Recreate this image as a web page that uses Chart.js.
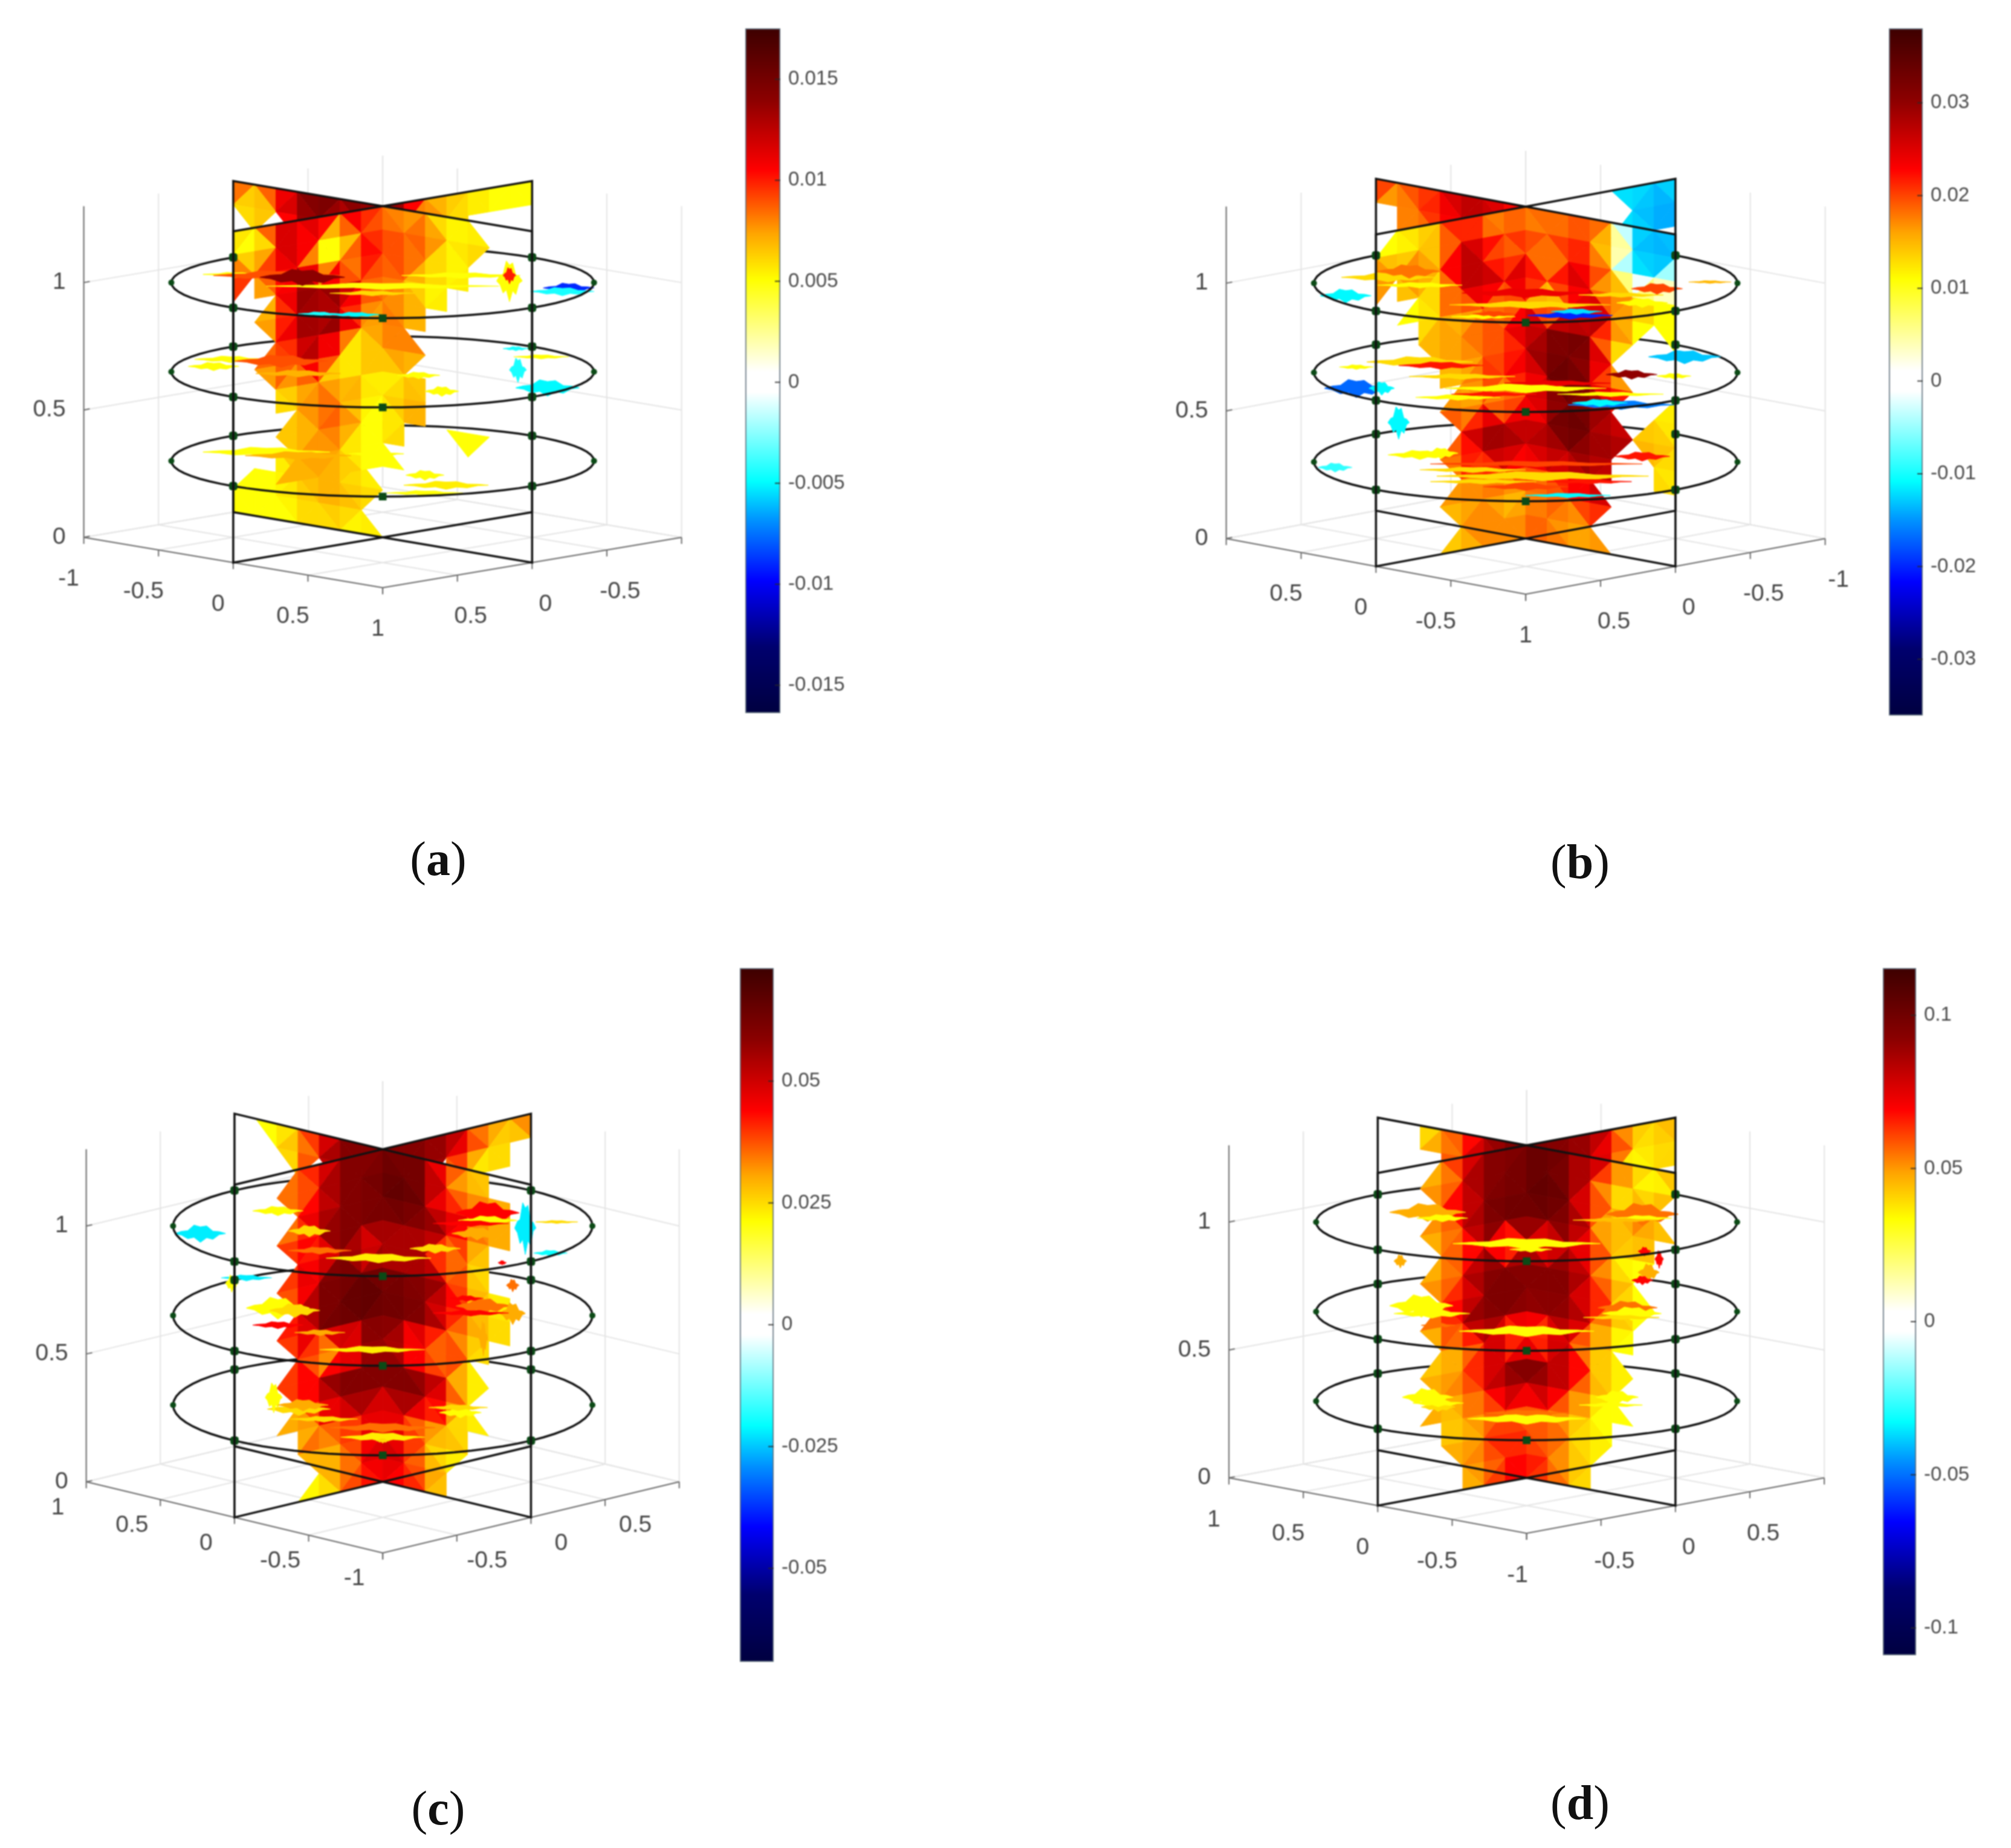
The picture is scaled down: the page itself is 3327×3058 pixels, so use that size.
<!DOCTYPE html>
<html>
<head>
<meta charset="utf-8">
<title>Slices at four load steps</title>
<script src="https://cdn.jsdelivr.net/npm/chart.js@4"></script>
<style>
    html, body { margin: 0; background: #fff; }
    #page { position: relative; width: 3327px; height: 3058px; overflow: hidden; background: #fff; }
    #page canvas { position: absolute; filter: blur(1px); }
    .caption { position: absolute; font: 80px "Liberation Serif", serif; color: #111; transform: translate(-50%, -50%); }
</style>
</head>
<body>
<div id="page"></div>
<script>
const _ = null;

// slice values in units of 0.001, rows run from z = 1.3 down to z = 0, columns left to right on screen
const sliceFrontA = [
    [7, 5, 13, 14, 15, 11, 11, 8, 8, 7, 6, 5, _, _, _],
    [5, 5, 8, 13, 5, 5, 10, 9, 8, 10, 5, 6, _, _, _],
    [10, 9, 11, 14, 5, 5, 11, 10, 9, 8, 5, 6, _, _, _],
    [_, _, 6, 12, 14, 13, 9, 8, 8, 5, 5, _, _, _, _],
    [_, _, 8, 15, 11, 14, 9, 8.5, 7, 6, _, _, _, _, _],
    [_, _, 7, 11, 14, 13, 6, 8, 8, _, _, _, _, _, _],
    [_, _, 10, 11, 13, 5.5, 5.5, 8, 8, _, _, _, _, _, _],
    [_, _, 5, 7, 8, 5.5, 6, 5.5, 6, _, _, _, _, _, _],
    [_, _, _, 7, 8, 9, 6, 5, 7, 7, _, _, _, _, _],
    [_, _, _, 6, 8, 9, 5, 5, 7, _, _, 5, _, _, _],
    [_, _, _, 7, 8, 7, 5, 5, _, _, _, 5, _, _, _],
    [_, _, _, 7, 7, 7, 5, 5, _, _, _, _, _, _, _]
];
const sliceBackA = [
    [11, 7, 11, 14, 15, 15, 15, 14, 13, 8, 6, 6, 5, 5, 5],
    [7, 5, 8, 13, 14, 12, 12, _, _, 8, 7, 5, _, 5, _],
    [], [], [], [], [], [], [], [], [],
    [_, _, _, 7, 7, 7, 5, _, _, _, _, _, _, _, _],
    [_, _, 5, 6, 7, 7, 6, _, _, _, _, _, _, _, _],
    [5, 5, 5, 6, 7, 7, 6, _, _, _, _, _, _, _, _],
    [5, 5, 5, 5, 6, 5, 5, _, _, _, _, _, _, _, _]
];
const sliceFrontB = [
    [_, 11, 13, 15, 22, 15, 20, 18, 22, 18, 22, 15, -12, -13, -13],
    [_, 11, 13, 15, 27, 22, 18, 20, 15, 22, 18, 13, -13, -14, -14],
    [15, 18, 20, 15, 27, 27, 15, 24, 16, 24, 22, 13, -12, -11, 11],
    [_, _, 11, 13, 27, 27, 24, 27, 15, 27, 24, 13, 18, 11, 11],
    [_, _, 11, 15, 13, 18, 15, 20, 11, 18, 31, 20, 11, 11, 11],
    [_, _, _, 15, 18, 18, 22, 27, 29, 33, 31, 13, _, _, _],
    [_, _, _, 15, 15, 18, 18, 24, 33, 33, 31, 13, _, _, _],
    [_, _, _, _, 15, 20, 24, 22, 31, 36, 28, 20, _, _, _],
    [_, _, _, _, 18, 15, 13, 18, 28, 33, 33, 24, _, 13, 11],
    [_, _, _, _, 20, 29, 29, 24, 29, 36, 31, 29, _, 15, 13],
    [_, _, _, _, 18, 29, 29, 27, 27, 31, 29, 27, _, 15, 11],
    [_, _, _, _, 18, 15, 20, 22, 22, 24, 27, _, _, _, 11],
    [_, _, _, _, 15, 18, 15, 15, 18, 18, 24, _, _, _, _],
    [_, _, _, _, 15, 18, 15, 18, 20, 15, 18, _, _, _, _],
    [_, _, _, _, 13, 18, 18, 18, 18, 15, 15, _, _, _, _]
];
const sliceBackB = [
    [22, 18, 20, 22, 27, 27, 24, 20, _, _, _, _, -12, -13, -11],
    [_, 15, 20, 22, 27, 27, 24, _, _, _, _, _, -12, -14, -14],
    [_, _, 15, 20, 22, 22, _, _, _, _, _, _, -12, -14, -14]
];
const sliceFrontC = [
    [_, _, _, 35, 44, 60, 60, 60, 60, 60, 44, 30, _, _, _],
    [_, _, _, 35, 44, 60, 60, 64, 68, 60, 35, 30, 25, _, _],
    [_, _, _, 35, 52, 60, 60, 64, 66, 60, 44, 44, 30, 35, _],
    [_, _, _, 35, 52, 60, 60, 62, 60, 60, 52, 35, 25, _, _],
    [_, _, _, 44, 30, 60, 44, 44, 60, 44, 25, 30, _, _, _],
    [_, _, _, 35, 60, 60, 64, 60, 60, 60, 52, 30, 21, _, _],
    [_, _, _, 40, 60, 64, 68, 66, 62, 60, 44, 35, 25, 25, _],
    [_, _, _, 44, 60, 64, 64, 62, 62, 60, 44, 30, 25, _, _],
    [_, _, _, 35, 25, 21, 60, 52, 52, 21, 44, 25, _, _, _],
    [_, _, _, 44, 52, 60, 60, 60, 60, 52, 44, 21, _, _, _],
    [_, _, _, 35, 44, 60, 60, 60, 60, 60, 40, 25, _, _, _],
    [_, _, _, 25, 35, 44, 44, 44, 44, 35, 30, 21, _, _, _],
    [_, _, _, _, 35, 30, 44, 52, 44, 30, 25, _, _, _, _],
    [_, _, _, _, 23, 35, 40, 52, 44, 35, 21, _, _, _, _],
    [_, _, _, _, 21, 30, 44, 44, 44, 35, _, _, _, _, _]
];
const sliceBackC = [
    [_, _, 21, 30, 44, 60, 60, 60, 60, 60, 60, 44, 35, 30, 35],
    [_, _, 21, 30, 44, 60, 60, 60, 60, 60, 52, 44, 25, 25, _],
    [_, _, _, _, _, _, _, _, _, _, _, 21, 25, _, _]
];
const sliceFrontD = [
    [_, _, _, 47, 69, 94, 94, 100, 100, 94, 94, 69, 47, 39, 47],
    [_, _, _, 47, 69, 94, 94, 100, 106, 94, 69, 47, 33, 33, _],
    [_, _, _, 55, 82, 94, 100, 100, 106, 94, 69, 39, 47, 55, _],
    [_, _, _, 47, 69, 94, 100, 100, 100, 94, 69, 39, 55, 33, _],
    [_, _, _, 47, 55, 82, 33, 69, 60, 82, 69, 39, 33, _, _],
    [_, _, _, 47, 69, 94, 94, 94, 94, 94, 69, 47, 33, _, _],
    [_, _, _, 55, 69, 94, 100, 94, 94, 94, 69, 55, 33, _, _],
    [_, _, _, 55, 82, 94, 94, 90, 90, 90, 69, 39, 33, _, _],
    [_, _, _, 39, 47, 69, 69, 33, 69, 69, 39, 33, _, _, _],
    [_, _, _, 47, 55, 69, 94, 94, 94, 82, 55, 39, _, _, _],
    [_, _, _, 47, 55, 69, 82, 94, 82, 69, 47, 33, _, _, _],
    [_, _, _, 47, 39, 55, 60, 60, 60, 47, 33, 33, _, _, _],
    [_, _, _, _, 47, 55, 69, 55, 60, 47, 39, _, _, _, _],
    [_, _, _, _, 47, 55, 69, 69, 60, 47, 33, _, _, _, _],
    [_, _, _, _, _, 47, 69, 69, 60, 47, _, _, _, _, _]
];
const sliceBackD = [
    [_, _, 33, 47, 55, 82, 94, 100, 94, 94, 94, 69, 47, 39, 47],
    [_, _, _, 47, 69, 82, 94, 94, 94, 94, 82, 69, 39, 39, 47],
    [_, _, _, _, _, _, _, _, _, _, _, _, 33, 33, _]
];

// disc patches: [across, depth, half length, half thickness, value] for discs at z = 1, 0.65, 0.3
const discA = [
    [[-0.7, -0.23, 0.15, 0.05, 5], [-0.5, -0.2, 0.3, 0.12, 9], [0, 0.1, 0.55, 0.08, 5], [-0.05, 0.3, 0.2, 0.06, 6], [0.37, -0.2, 0.28, 0.07, 5], [-0.38, -0.15, 0.2, 0.2, 14], [0.6, -0.05, 0.06, 0.5, 5], [0.6, -0.2, 0.03, 0.2, 10], [0.88, 0.15, 0.12, 0.12, -9], [0.85, 0.25, 0.15, 0.1, -4.5], [-0.3, 0.88, 0.1, 0.05, -4.5], [-0.13, 0.9, 0.12, 0.06, -5]],
    [[-0.72, -0.35, 0.17, 0.08, 5], [-0.48, -0.3, 0.22, 0.15, 9], [-0.4, 0.05, 0.2, 0.08, 7], [-0.8, -0.15, 0.12, 0.1, 5], [0.17, 0.1, 0.1, 0.08, 5], [0.28, 0.55, 0.08, 0.12, 5], [0.63, -0.65, 0.06, 0.05, -4.5], [0.64, -0.05, 0.04, 0.3, -4.5], [0.78, 0.45, 0.15, 0.2, -5], [0.75, -0.42, 0.13, 0.05, 5]],
    [[-0.55, -0.25, 0.3, 0.12, 5], [-0.4, -0.15, 0.25, 0.1, 7], [-0.03, -0.2, 0.13, 0.07, 5], [0.2, 0.4, 0.09, 0.12, 5], [0.3, 0.68, 0.2, 0.1, 5.5], [0.2, 0.9, 0.18, 0.06, 5]]
];
const discB = [
    [[-0.65, -0.15, 0.22, 0.1, 13], [-0.55, -0.3, 0.15, 0.15, 18], [0, 0.25, 0.3, 0.1, 24], [0.02, 0.55, 0.38, 0.08, 13], [-0.2, 0.85, 0.15, 0.05, 11], [-0.15, 0.78, 0.1, 0.06, 20], [0.21, 0.82, 0.2, 0.08, -20], [0.24, 0.72, 0.12, 0.06, -12], [-0.85, 0.32, 0.12, 0.15, -11], [0.62, 0.14, 0.12, 0.12, 20], [0.87, -0.03, 0.1, 0.03, 15], [0.55, 0.5, 0.12, 0.1, 11], [-0.5, 0.05, 0.2, 0.06, 11], [0.45, 0.3, 0.2, 0.05, 13]],
    [[-0.5, -0.27, 0.25, 0.12, 13], [-0.4, -0.18, 0.2, 0.08, 22], [-0.8, -0.14, 0.08, 0.05, 11], [-0.8, 0.4, 0.15, 0.2, -17], [-0.68, 0.4, 0.06, 0.15, -11], [0.75, -0.4, 0.17, 0.15, -13], [0, 0.4, 0.38, 0.1, 11], [0.15, 0.27, 0.25, 0.06, 24], [0.5, 0.05, 0.12, 0.1, 30], [0.7, 0.09, 0.08, 0.06, 11], [0.45, 0.82, 0.25, 0.1, -16], [0.35, 0.77, 0.13, 0.08, -11], [-0.32, 0.63, 0.2, 0.06, 11], [-0.3, 0.1, 0.25, 0.06, 13], [0.4, 0.55, 0.25, 0.05, 11], [-0.15, 0.55, 0.2, 0.05, 22]],
    [[-0.5, -0.18, 0.15, 0.1, 11], [-0.4, -0.22, 0.08, 0.12, 11], [0.05, 0.05, 0.5, 0.06, 20], [0.08, 0.36, 0.5, 0.1, 13], [0.2, 0.85, 0.2, 0.05, -11], [0, 0.63, 0.2, 0.08, 20], [-0.9, 0.14, 0.08, 0.1, -9], [0.55, -0.14, 0.13, 0.1, 22], [-0.6, -1, 0.05, 0.36, -11], [-0.25, 0.2, 0.25, 0.06, 13], [0.3, 0.5, 0.2, 0.05, 22], [-0.2, 0.5, 0.25, 0.05, 13]]
];
const discC = [
    [[-0.5, -0.3, 0.12, 0.08, 21], [-0.02, 0.64, 0.25, 0.08, 23], [0.25, 0.45, 0.12, 0.08, 25], [-0.3, 0.49, 0.15, 0.06, 35], [0.5, -0.26, 0.15, 0.2, 44], [0.5, -0.11, 0.14, 0.08, 21], [0.45, 0.15, 0.12, 0.11, 30], [-0.87, 0.15, 0.12, 0.15, -22], [0.68, 0.04, 0.05, 0.45, -22], [0.8, 0.54, 0.08, 0.05, -20], [0.83, -0.08, 0.1, 0.025, 25], [-0.35, 0.1, 0.1, 0.1, 25], [0.42, -0.05, 0.18, 0.05, 44]],
    [[-0.5, -0.15, 0.15, 0.19, 21], [-0.5, 0.19, 0.12, 0.06, 44], [-0.3, 0.34, 0.12, 0.05, 30], [0.48, -0.19, 0.13, 0.14, 35], [0.4, -0.34, 0.08, 0.05, 44], [-0.05, 0.68, 0.25, 0.06, 23], [-0.65, -0.75, 0.12, 0.05, -22], [-0.72, -0.64, 0.03, 0.15, 21], [0.62, -0.04, 0.06, 0.19, 30], [0.57, -1.05, 0.02, 0.04, 44], [0.62, -0.6, 0.03, 0.11, 35], [0.48, 0.45, 0.02, 0.3, 30], [-0.42, -0.1, 0.12, 0.12, 25], [0.42, -0.05, 0.18, 0.05, 44]],
    [[-0.4, 0.08, 0.15, 0.11, 25], [-0.52, -0.15, 0.04, 0.26, 21], [0, 0.64, 0.2, 0.08, 23], [0, 0.45, 0.25, 0.08, 35], [0.37, 0.15, 0.1, 0.09, 21], [0, 0.71, 0.03, 0.04, 25], [-0.38, 0, 0.12, 0.1, 30], [0.36, 0.05, 0.14, 0.05, 25], [-0.28, 0.28, 0.16, 0.05, 25]]
];
const discD = [
    [[-0.47, -0.25, 0.18, 0.2, 47], [0.55, -0.2, 0.17, 0.25, 55], [0.55, -0.1, 0.14, 0.06, 33], [0, 0.55, 0.35, 0.12, 33], [0.02, 0.7, 0.1, 0.06, 33], [-0.6, 1, 0.03, 0.15, 47], [0.56, 0.75, 0.03, 0.1, 69], [0.63, 0.95, 0.02, 0.2, 69], [-0.4, -0.1, 0.12, 0.08, 33], [0.42, -0.05, 0.2, 0.05, 44]],
    [[-0.5, -0.15, 0.15, 0.25, 33], [-0.42, 0.35, 0.08, 0.05, 55], [0.48, -0.1, 0.14, 0.15, 55], [0.5, 0.05, 0.14, 0.15, 33], [0, 0.5, 0.32, 0.12, 33], [0.58, -1, 0.05, 0.2, 47], [0.55, -0.8, 0.05, 0.1, 69], [-0.45, 0.05, 0.18, 0.1, 33], [0.45, 0.15, 0.18, 0.05, 39]],
    [[-0.47, -0.1, 0.12, 0.2, 33], [-0.42, 0.15, 0.08, 0.1, 39], [0.43, -0.1, 0.1, 0.15, 33], [0, 0.45, 0.28, 0.12, 33], [0, 0.3, 0.2, 0.06, 55], [-0.42, 0.05, 0.12, 0.08, 33], [0.4, 0.1, 0.15, 0.05, 33]]
];

// tick labels
const edgeTicks = [-1, -0.5, 0, 0.5, 1];
const heightTicks = [0, 0.5, 1];
const leftLabelsA = ['-1', '-0.5', '0', '0.5', '1'];
const rightLabelsA = ['', '0.5', '0', '-0.5', ''];
const leftLabelsB = ['', '0.5', '0', '-0.5', '1'];
const rightLabelsB = ['', '0.5', '0', '-0.5', '-1'];
const leftLabelsC = ['1', '0.5', '0', '-0.5', '-1'];
const rightLabelsC = ['', '-0.5', '0', '0.5', ''];
const leftLabelsD = ['1', '0.5', '0', '-0.5', '-1'];
const rightLabelsD = ['', '-0.5', '0', '0.5', ''];

// colourbar ticks and limits
const barTicksA = [-0.015, -0.01, -0.005, 0, 0.005, 0.01, 0.015];
const barTicksB = [-0.03, -0.02, -0.01, 0, 0.01, 0.02, 0.03];
const barTicksC = [-0.05, -0.025, 0, 0.025, 0.05];
const barTicksD = [-0.1, -0.05, 0, 0.05, 0.1];
const barLimitsA = [-0.01638, 0.01752];
const barLimitsB = [-0.03607, 0.03803];
const barLimitsC = [-0.0692, 0.0732];
const barLimitsD = [-0.1089, 0.1154];

const ringHeights = [1, 0.65, 0.3];
const planeTop = 1.3;
const wallGrey = '#e4e4e4';
const axisGrey = '#6a6a6a';
const wire = '#111111';
const markerGreen = '#0b4a16';
const sliverTop = [0.2, 0.7, 0.5, 1, 0.6, 0.9, 0.4, 0.6, 0.2];
const sliverBottom = [0.3, 0.5, 0.9, 0.45, 0.8, 0.5, 1, 0.35, 0.2];

const colorStops = [
    [-1, [0, 0, 64]], [-0.8, [0, 0, 110]], [-0.6, [0, 0, 255]], [-0.42, [0, 144, 255]], [-0.3, [0, 255, 255]],
    [-0.03, [255, 255, 255]], [0.03, [255, 255, 255]], [0.29, [255, 255, 0]], [0.42, [255, 165, 0]],
    [0.6, [255, 0, 0]], [0.8, [139, 0, 0]], [1, [61, 0, 0]]
];

function stopColor(t) {
    for (let i = 1; i < colorStops.length; i++) {
        if (t <= colorStops[i][0]) {
            const [t0, c0] = colorStops[i - 1];
            const [t1, c1] = colorStops[i];
            const k = (t - t0) / (t1 - t0);
            return `rgb(${c0.map((c, j) => Math.round(c + (c1[j] - c) * k)).join(',')})`;
        }
    }
    return 'rgb(61,0,0)';
}

function valueColor(v, limits) {
    return stopColor(v >= 0 ? Math.min(v / limits[1], 1) : Math.max(v / -limits[0], -1));
}

// fills datasets flagged polygon from the points placed by the scales
const polygonPlugin = {
    id: 'polygon',
    beforeDatasetDraw(chart, args) {
        const ds = chart.data.datasets[args.index];
        if (!ds.polygon) return;
        const pts = args.meta.data;
        const ctx = chart.ctx;
        ctx.save();
        ctx.beginPath();
        pts.forEach((p, i) => (i ? ctx.lineTo(p.x, p.y) : ctx.moveTo(p.x, p.y)));
        ctx.closePath();
        ctx.fillStyle = ds.polygon;
        ctx.strokeStyle = ds.polygon;
        ctx.lineWidth = 1;
        ctx.fill();
        ctx.stroke();
        ctx.restore();
    }
};

const tickLabelPlugin = {
    id: 'tickLabels',
    afterDraw(chart, args, opts) {
        const ctx = chart.ctx;
        const { x, y } = chart.scales;
        ctx.save();
        ctx.font = '39px "Liberation Sans", sans-serif';
        ctx.fillStyle = '#454545';
        ctx.textBaseline = 'middle';
        opts.items.forEach((it) => {
            ctx.textAlign = it.align;
            ctx.fillText(it.text, x.getPixelForValue(it.x) + it.dx, y.getPixelForValue(it.y) + it.dy);
        });
        ctx.restore();
    }
};

const barTickPlugin = {
    id: 'barTicks',
    afterDatasetsDraw(chart) {
        const s = chart.scales.y;
        const right = chart.chartArea.right;
        const ctx = chart.ctx;
        ctx.save();
        ctx.strokeStyle = 'rgba(40,40,40,0.85)';
        ctx.lineWidth = 2;
        s.ticks.forEach((t) => {
            const py = s.getPixelForValue(t.value);
            ctx.beginPath();
            ctx.moveTo(right - 9, py);
            ctx.lineTo(right, py);
            ctx.stroke();
        });
        ctx.restore();
    }
};

function drawPanel(panel) {
    const { box, cx, cy, kz, ex, ey } = panel;
    const limits = panel.limits.map((v) => v * 1000);
    const proj = (px, py, pz) => ({ x: ex * (px - py), y: kz * pz - ey * (px + py) });
    const planPoint = (u, front) => (front === u < 0 ? { x: 0, y: -u } : { x: u, y: 0 });

    const layers = [];
    const line = (points, color, width) => layers.push({
        data: points, showLine: true, borderColor: color, borderWidth: width, pointRadius: 0, tension: 0
    });
    const polygon = (points, value) => layers.push({
        data: points, polygon: valueColor(value, limits), showLine: false, pointRadius: 0
    });

    // walls and floor
    edgeTicks.forEach((t) => {
        line([proj(-1, t, 0), proj(-1, t, planeTop)], wallGrey, 2);
        line([proj(t, -1, 0), proj(t, -1, planeTop)], wallGrey, 2);
        line([proj(t, -1, 0), proj(t, 1, 0)], wallGrey, 2);
        line([proj(-1, t, 0), proj(1, t, 0)], wallGrey, 2);
    });
    heightTicks.forEach((z) => {
        line([proj(-1, 1, z), proj(-1, -1, z), proj(1, -1, z)], wallGrey, 2);
    });
    line([proj(-1, 1, 0), proj(1, 1, 0), proj(1, -1, 0)], axisGrey, 2);
    line([proj(-1, 1, 0), proj(-1, 1, planeTop)], axisGrey, 2);
    edgeTicks.forEach((t) => {
        const a = proj(t, 1, 0);
        const b = proj(1, t, 0);
        line([a, { x: a.x, y: a.y - 11 }], axisGrey, 2);
        line([b, { x: b.x, y: b.y - 11 }], axisGrey, 2);
    });
    heightTicks.forEach((z) => {
        const a = proj(-1, 1, z);
        line([a, { x: a.x + 10, y: a.y + 2 }], axisGrey, 2);
    });

    const ringArc = (z, from, to) => {
        const pts = [];
        for (let d = from; d <= to; d += 5) {
            const r = d * Math.PI / 180;
            pts.push(proj(Math.cos(r), Math.sin(r), z));
        }
        return pts;
    };

    // back half of the rings and their hidden marker
    ringHeights.forEach((z) => {
        line(ringArc(z, 135, 315), wire, 3.5);
        layers.push({
            data: [proj(-Math.SQRT1_2, -Math.SQRT1_2, z)], showLine: false, pointStyle: 'rect',
            pointRadius: 9, backgroundColor: markerGreen, borderWidth: 0
        });
    });

    // a triangle with one empty corner still reaches towards it, which gives the spiky outline
    const addSlice = (grid, front) => {
        for (let r = 0; r < grid.length - 1; r++) {
            for (let c = 0; c < 14; c++) {
                const corners = [[r, c], [r, c + 1], [r + 1, c + 1], [r + 1, c]];
                const tris = (r + c) % 2 ? [[0, 1, 2], [0, 2, 3]] : [[0, 1, 3], [1, 2, 3]];
                tris.forEach((tri) => {
                    const vals = tri.map((k) => {
                        const row = grid[corners[k][0]];
                        return row ? row[corners[k][1]] : _;
                    }).filter((v) => v !== _ && v !== undefined);
                    if (vals.length < 2) return;
                    const pts = tri.map((k) => {
                        const plan = planPoint(corners[k][1] / 7 - 1, front);
                        return proj(plan.x, plan.y, planeTop * (14 - corners[k][0]) / 14);
                    });
                    polygon(pts, vals.reduce((s, v) => s + v, 0) / vals.length);
                });
            }
        }
    };
    addSlice(panel.back, false);
    addSlice(panel.front, true);

    // patches lying on the discs, drawn as jagged slivers
    panel.disc.forEach((patches, i) => {
        const z = ringHeights[i];
        patches.forEach(([a, b, len, thick, value]) => {
            const at = (pa, pb) => proj((pa + pb) * Math.SQRT1_2, (pb - pa) * Math.SQRT1_2, z);
            const top = [];
            const bottom = [];
            sliverTop.forEach((w, k) => {
                const s = k / 4 - 1;
                const taper = 1.05 - Math.abs(s);
                top.push(at(a + len * s, b - thick * w * taper * 1.4));
                bottom.unshift(at(a + len * s, b + thick * sliverBottom[k] * taper * 1.4));
            });
            polygon(top.concat(bottom), value);
        });
    });

    // front half of the rings and the markers
    ringHeights.forEach((z) => {
        line(ringArc(z, -45, 135), wire, 3.5);
        const s = Math.SQRT1_2;
        layers.push({
            data: [proj(1, 0, z), proj(0, 1, z), proj(-1, 0, z), proj(0, -1, z)], showLine: false,
            pointStyle: 'rectRounded', pointRadius: 8, backgroundColor: markerGreen, borderWidth: 0
        });
        layers.push({
            data: [proj(s, -s, z), proj(-s, s, z)], showLine: false,
            pointStyle: 'circle', pointRadius: 5, backgroundColor: markerGreen, borderWidth: 0
        });
        layers.push({
            data: [proj(s, s, z)], showLine: false, pointStyle: 'rect',
            pointRadius: 9, backgroundColor: markerGreen, borderWidth: 0
        });
    });

    // outlines of the two slice planes
    [[1, 0], [0, 1]].forEach(([dx, dy]) => {
        line([
            proj(-dx, -dy, 0), proj(dx, dy, 0), proj(dx, dy, planeTop),
            proj(-dx, -dy, planeTop), proj(-dx, -dy, 0)
        ], wire, 3.5);
    });

    const labels = [];
    heightTicks.forEach((z) => {
        const a = proj(-1, 1, z);
        labels.push({ text: String(z), x: a.x, y: a.y, dx: -30, dy: 0, align: 'right' });
    });
    edgeTicks.forEach((t, i) => {
        const a = proj(t, 1, 0);
        const b = proj(1, -t, 0);
        const leftDx = i === 4 ? panel.frontDx : panel.leftDx;
        labels.push({ text: panel.leftLabels[i], x: a.x, y: a.y, dx: leftDx, dy: panel.labelDrop, align: 'center' });
        labels.push({ text: panel.rightLabels[i], x: b.x, y: b.y, dx: panel.rightDx, dy: panel.labelDrop, align: 'center' });
    });

    const canvas = document.createElement('canvas');
    canvas.width = box[2];
    canvas.height = box[3];
    canvas.style.left = box[0] + 'px';
    canvas.style.top = box[1] + 'px';
    document.getElementById('page').appendChild(canvas);

    new Chart(canvas, {
        type: 'scatter',
        data: { datasets: layers.reverse() },
        options: {
            responsive: false,
            animation: false,
            events: [],
            layout: { padding: 0 },
            plugins: { legend: { display: false }, tooltip: { enabled: false }, tickLabels: { items: labels } },
            scales: {
                x: { display: false, min: box[0] - cx, max: box[0] + box[2] - cx },
                y: { display: false, min: cy - box[1] - box[3], max: cy - box[1] }
            }
        },
        plugins: [polygonPlugin, tickLabelPlugin]
    });
}

function drawColorbar(rect, limits, ticks) {
    const canvas = document.createElement('canvas');
    const pad = 5;
    canvas.width = rect[2] + 135;
    canvas.height = rect[3] + pad * 2;
    canvas.style.left = rect[0] + 'px';
    canvas.style.top = (rect[1] - pad) + 'px';
    document.getElementById('page').appendChild(canvas);

    new Chart(canvas, {
        type: 'bar',
        data: {
            labels: [''],
            datasets: [{
                data: [limits],
                barPercentage: 1,
                categoryPercentage: 1,
                borderColor: '#5f6f7c',
                borderWidth: 2,
                borderSkipped: false,
                backgroundColor(ctx) {
                    const area = ctx.chart.chartArea;
                    if (!area) return '#888';
                    const g = ctx.chart.ctx.createLinearGradient(0, area.bottom, 0, area.top);
                    const span = limits[1] - limits[0];
                    colorStops.forEach(([t, c]) => {
                        const v = t < 0 ? t * -limits[0] : t * limits[1];
                        g.addColorStop((v - limits[0]) / span, `rgb(${c.join(',')})`);
                    });
                    return g;
                }
            }]
        },
        options: {
            responsive: false,
            animation: false,
            events: [],
            layout: { padding: { top: pad, bottom: pad } },
            plugins: { legend: { display: false }, tooltip: { enabled: false } },
            scales: {
                x: { display: false },
                y: {
                    position: 'right',
                    min: limits[0],
                    max: limits[1],
                    afterFit(s) { s.width = 135; s.paddingTop = 0; s.paddingBottom = 0; },
                    afterBuildTicks(s) { s.ticks = ticks.map((v) => ({ value: v })); },
                    border: { display: false },
                    grid: { display: false, drawTicks: false },
                    ticks: {
                        autoSkip: false,
                        padding: 13,
                        color: '#4a4a4a',
                        font: { family: '"Liberation Sans", sans-serif', size: 33 },
                        callback: (v) => String(v)
                    }
                }
            }
        },
        plugins: [barTickPlugin]
    });
}

function addCaption(letter, x, y) {
    const el = document.createElement('div');
    el.className = 'caption';
    el.style.left = x + 'px';
    el.style.top = y + 'px';
    el.innerHTML = `(<b>${letter}</b>)`;
    document.getElementById('page').appendChild(el);
}

drawPanel({
    box: [0, 240, 1200, 920], cx: 633.6, cy: 893, kz: 430, ex: 251, ey: 42.5,
    labelDrop: 69, leftDx: -25, rightDx: 22, frontDx: -8,
    limits: barLimitsA, front: sliceFrontA, back: sliceBackA, disc: discA,
    leftLabels: leftLabelsA, rightLabels: rightLabelsA
});
drawPanel({
    box: [1900, 240, 1200, 920], cx: 2524.5, cy: 895, kz: 431, ex: 251.5, ey: 47,
    labelDrop: 69, leftDx: -25, rightDx: 22, frontDx: 0,
    limits: barLimitsB, front: sliceFrontB, back: sliceBackB, disc: discB,
    leftLabels: leftLabelsB, rightLabels: rightLabelsB
});
drawPanel({
    box: [0, 1780, 1200, 900], cx: 633.7, cy: 2456.6, kz: 432, ex: 249, ey: 60,
    labelDrop: 43, leftDx: -47, rightDx: 50, frontDx: -47,
    limits: barLimitsC, front: sliceFrontC, back: sliceBackC, disc: discC,
    leftLabels: leftLabelsC, rightLabels: rightLabelsC
});
drawPanel({
    box: [1900, 1780, 1200, 900], cx: 2526, cy: 2450, kz: 432, ex: 250, ey: 46.7,
    labelDrop: 70, leftDx: -25, rightDx: 22, frontDx: -15,
    limits: barLimitsD, front: sliceFrontD, back: sliceBackD, disc: discD,
    leftLabels: leftLabelsD, rightLabels: rightLabelsD
});

drawColorbar([1233, 47, 58, 1133], barLimitsA, barTicksA);
drawColorbar([3125, 47, 56, 1137], barLimitsB, barTicksB);
drawColorbar([1224, 1602, 56, 1148], barLimitsC, barTicksC);
drawColorbar([3115, 1602, 55, 1137], barLimitsD, barTicksD);

addCaption('a', 725, 1421);
addCaption('b', 2614, 1426);
addCaption('c', 725, 2992);
addCaption('d', 2614, 2983);
</script>
</body>
</html>
